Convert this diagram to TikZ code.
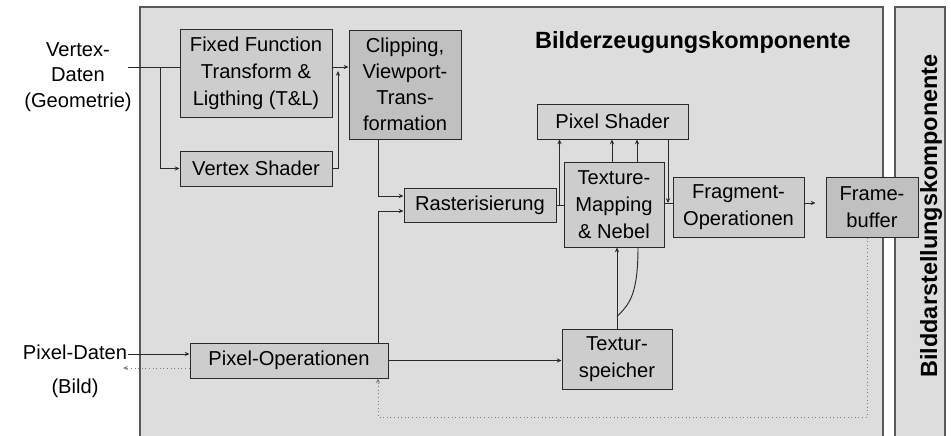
\documentclass[tikz,border=0pt]{standalone}
\usepackage{fontspec}
\setmainfont{Liberation Sans}
\usetikzlibrary{arrows.meta,calc}

\definecolor{panelfill}{HTML}{DDDDDD}
\definecolor{boxfill}{HTML}{CDCDCD}
\definecolor{darkfill}{HTML}{C0C0C0}
\definecolor{lightfill}{HTML}{D3D3D3}
\definecolor{edgegray}{HTML}{5A5A5A}
\definecolor{linegray}{HTML}{2A2A2A}

\tikzset{
  panel/.style={draw=edgegray, fill=panelfill, line width=0.8pt},
  blk/.style={draw=linegray, fill=boxfill, line width=0.75pt, inner sep=0pt,
    align=center, font=\fontsize{15.1}{20.2}\selectfont},
  arr/.style={draw=linegray, line width=0.7pt, -{Stealth[length=3.6pt,width=3.2pt]}},
  conn/.style={draw=linegray, line width=0.7pt},
  dotarr/.style={draw=gray, line width=0.7pt, dotted, -{Stealth[length=3.6pt,width=3.2pt]}},
  lbl/.style={align=center, font=\fontsize{15.1}{19}\selectfont},
  title/.style={font=\bfseries\fontsize{17.6}{20}\selectfont}
}

\begin{document}
\begin{tikzpicture}[x=0.75pt, y=-0.75pt]
  \useasboundingbox (0,0) rectangle (951,436);

  % the two component panels
  \path[panel] (140,7) rectangle (883,445);
  \path[panel] (895,7) rectangle (945,445);

  % panel titles
  \node[title] (gen) at (693,42) {Bilderzeugungskomponente};
  \node[title, rotate=90, anchor=base] (disp) at (937,216) {Bilddarstellungskomponente};

  % processing stages
  \node[blk, minimum width=152*0.75pt, minimum height=88*0.75pt] (ff) at (256,73)
    {Fixed Function\\Transform \&\\Ligthing (T\&L)};
  \node[blk, minimum width=152*0.75pt, minimum height=35*0.75pt] (vs) at (256,168.5)
    {Vertex Shader};
  \node[blk, fill=darkfill, minimum width=112*0.75pt, minimum height=109*0.75pt,
    font=\fontsize{15.1}{19.4}\selectfont] (clip) at (405,84.5)
    {Clipping,\\Viewport-\\Trans-\\formation};
  \node[blk, fill=lightfill, minimum width=151*0.75pt, minimum height=35*0.75pt] (ps) at (612.5,121.5)
    {Pixel Shader};
  \node[blk, minimum width=100*0.75pt, minimum height=85*0.75pt] (tm) at (614,204.5)
    {Texture-\\Mapping\\\& Nebel};
  \node[blk, minimum width=152*0.75pt, minimum height=34*0.75pt] (ras) at (480,205)
    {Rasterisierung};
  \node[blk, minimum width=131*0.75pt, minimum height=60*0.75pt] (frag) at (738.5,207)
    {Fragment-\\Operationen};
  \node[blk, fill=darkfill, minimum width=92*0.75pt, minimum height=60*0.75pt] (fb) at (872,207)
    {Frame-\\buffer};
  \node[blk, minimum width=198*0.75pt, minimum height=35*0.75pt] (po) at (289,360.5)
    {Pixel-Operationen};
  \node[blk, minimum width=110*0.75pt, minimum height=60*0.75pt] (ts) at (617,359)
    {Textur-\\speicher};

  % external inputs and outputs
  \node[lbl] (vdat) at (78,77) {Vertex-\\Daten\\(Geometrie)};
  \node[lbl] (pdat) at (75,352) {Pixel-Daten};
  \node[lbl] (bild) at (75,388) {(Bild)};

  \coordinate (vin) at (128,67);
  \coordinate (vbr) at (160,67);
  \coordinate (vsup) at (338,71);
  \coordinate (pin) at (128,354);
  \coordinate (pout) at (123,368);
  \coordinate (lowy) at (0,417);

  % geometry path
  \draw[conn] (vin) -- (vin -| ff.west);
  \draw[arr] (vbr) |- (vs.west);
  \draw[arr] (ff.east |- vin) -- (clip.west |- vin);
  \draw[arr] (vs.east) -| (vsup);

  \coordinate (cdown) at ($(clip.south)+(-27,0)$);
  \coordinate (rin1) at ($(ras.west)+(0,-9)$);
  \coordinate (rin2) at ($(ras.west)+(0,6)$);
  \coordinate (pup) at ($(po.north)+(89,0)$);
  \draw[arr] (cdown) |- (rin1);
  \draw[arr] (pup) |- (rin2);

  % rasterisation, texturing and pixel shading
  \coordinate (rj) at ($(ras.east)+(3,0)$);
  \draw[conn] (ras.east) -- (tm.west |- ras.east);
  \draw[arr] (rj) -- (rj |- ps.south);
  \coordinate (t1) at ($(tm.north)+(-2,0)$);
  \coordinate (t2) at ($(tm.north)+(23,0)$);
  \draw[arr] (t1) -- (t1 |- ps.south);
  \draw[arr] (t2) -- (t2 |- ps.south);
  \coordinate (p3) at ($(ps.south)+(55.5,0)$);
  \coordinate (tmo) at ($(tm.east)+(0,-1.5)$);
  \draw[conn] (tmo) -- (frag.west |- tmo);
  \draw[arr] (p3) -- (p3 |- tmo);

  % fragment operations into the frame buffer
  \coordinate (fbin) at ($(frag.east |- tmo)+(11,0)$);
  \draw[arr] (frag.east |- tmo) -- (fbin);

  % pixel path
  \draw[arr] (pin) -- (pin -| po.west);
  \draw[dotarr] (pout -| po.west) -- (pout);
  \draw[arr] (po.east) -- (ts.west |- po.east);

  % texture memory
  \draw[arr] (ts.north) -- (ts.north |- tm.south);
  \coordinate (cs) at ($(tm.south)+(24,0)$);
  \coordinate (cj) at ($(ts.north)+(0,-12)$);
  \draw[conn] (cs) .. controls ($(cs)+(0,48)$) and ($(cj)+(12,-12)$) .. (cj);

  % read-back from the frame buffer
  \coordinate (fbd) at ($(fb.south)+(-5,0)$);
  \coordinate (poret) at ($(po.south)+(89,0)$);
  \draw[dotarr] (fbd) -- (fbd |- lowy) -| (poret);
\end{tikzpicture}
\end{document}
